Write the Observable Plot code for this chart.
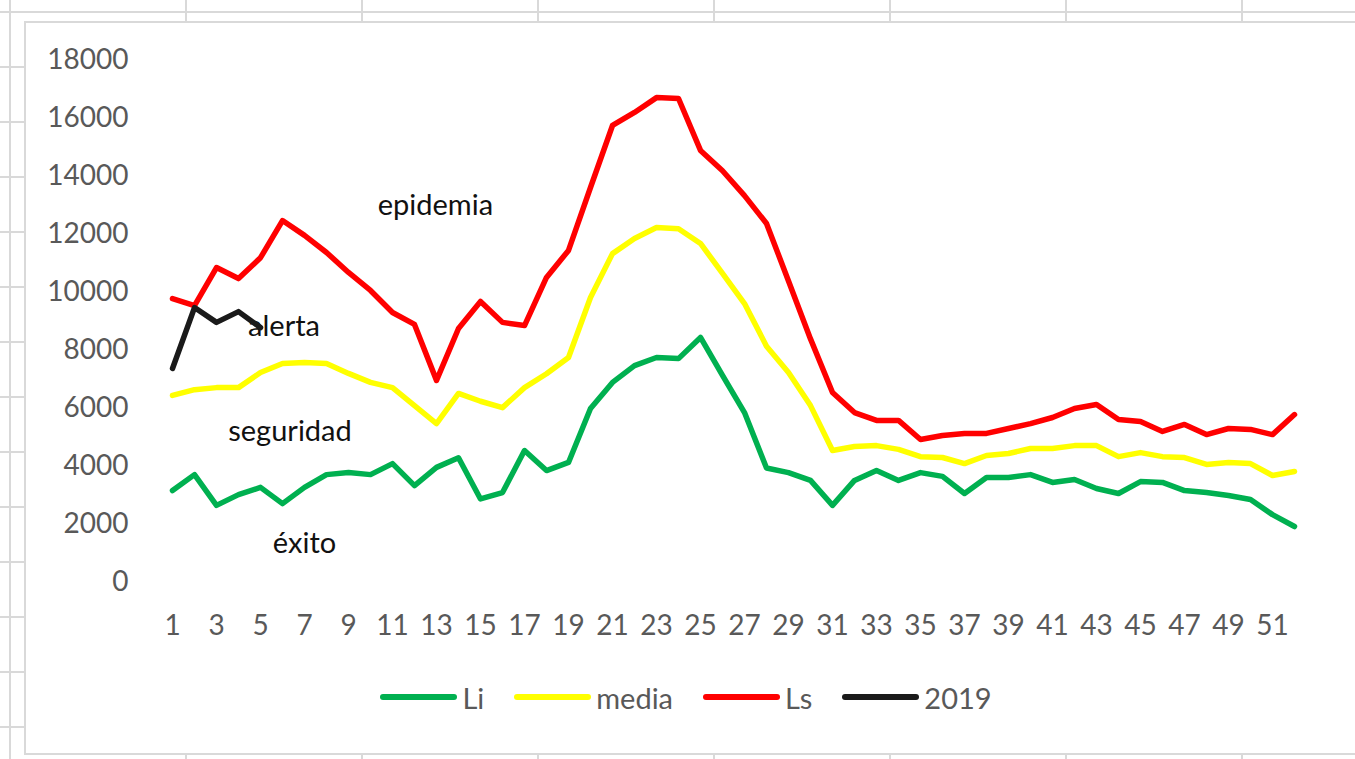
<!DOCTYPE html>
<html>
<head>
<meta charset="utf-8">
<script src="https://cdn.jsdelivr.net/npm/d3@7"></script>
<script src="https://cdn.jsdelivr.net/npm/@observablehq/plot@0.6"></script>
<style>
  html, body { margin: 0; padding: 0; background: #fff; }
  #sheet {
    position: relative; width: 1355px; height: 759px; overflow: hidden;
    background-color: #fff;
    background-image:
      repeating-linear-gradient(to right, transparent 0, transparent 9px, #d9d9d9 9px, #d9d9d9 11px, transparent 11px, transparent 176px),
      repeating-linear-gradient(to bottom, transparent 0, transparent 11px, #d9d9d9 11px, #d9d9d9 13px, transparent 13px, transparent 55px);
    background-position: 0 0, 0 0;
    font-family: Lato, "Open Sans", sans-serif;
  }
  #chartArea {
    position: absolute; left: 24px; top: 21px; width: 1330px; height: 730px;
    background: #fff; border-left: 2px solid #d9d9d9; border-top: 2px solid #d9d9d9; border-bottom: 2px solid #d9d9d9;
  }
  #plot { position: absolute; left: 0; top: 0; }
  #legend {
    position: absolute; left: 24px; width: 1324px; top: 678px; height: 38px;
    display: flex; justify-content: center; align-items: center; gap: 30px;
    font-size: 29px; color: #595959;
  }
  #legend .item { display: flex; align-items: center; gap: 5px; }
  #legend .swatch { width: 77px; height: 6px; border-radius: 3px; }
</style>
</head>
<body>
<div id="sheet">
  <div id="chartArea"></div>
  <div id="plot"></div>
  <div id="legend"></div>
</div>
<script>
// Epidemiological week (categories)
const weeks = [1,2,3,4,5,6,7,8,9,10,11,12,13,14,15,16,17,18,19,20,21,22,23,24,25,26,
               27,28,29,30,31,32,33,34,35,36,37,38,39,40,41,42,43,44,45,46,47,48,49,50,51,52];

// Lower limit (Li)
const li = [3170,3720,2660,3030,3280,2720,3280,3720,3790,3720,4100,3340,3970,4300,2880,3100,
            4550,3860,4140,6000,6900,7480,7760,7720,8450,7140,5860,3950,3790,3520,2660,3520,
            3860,3520,3790,3660,3070,3620,3620,3720,3450,3550,3240,3070,3480,3450,3170,3100,
            3000,2860,2340,1930];

// Mean (media)
const media = [6450,6650,6720,6720,7240,7550,7590,7550,7210,6900,6720,6100,5480,6520,6250,6030,
               6720,7200,7760,9830,11340,11860,12240,12200,11690,10660,9620,8150,7240,6100,4550,4690,
               4720,4590,4340,4310,4100,4380,4450,4620,4620,4720,4720,4340,4480,4340,4310,4070,
               4140,4100,3690,3830];

// Upper limit (Ls)
const ls = [9790,9550,10860,10480,11200,12480,11970,11380,10690,10070,9310,8900,6970,8760,9690,8970,
            8860,10520,11450,13620,15760,16210,16720,16690,14900,14200,13340,12380,10400,8400,6550,5860,
            5590,5590,4930,5070,5140,5140,5310,5480,5690,6000,6140,5620,5550,5210,5450,5100,
            5310,5280,5100,5790];

// Current year 2019 (first weeks only)
const y2019 = [7380,9480,8970,9340,8790];

// Series names & colours
const seriesNames = ["Li", "media", "Ls", "2019"];
const seriesColors = ["#00B050", "#FFFF00", "#FF0000", "#1a1a1a"];

// Tick labels
const xTicks = [1,3,5,7,9,11,13,15,17,19,21,23,25,27,29,31,33,35,37,39,41,43,45,47,49,51];
const yTicks = [0,2000,4000,6000,8000,10000,12000,14000,16000,18000];

// Zone annotations (in data coordinates: week, cases)
const zoneLabels = ["epidemia", "alerta", "seguridad", "éxito"];
const zoneWeeks = [12.95, 6.07, 6.34, 7.0];
const zoneValues = [13000, 8830, 5200, 1345];

// Build tables
const seriesValues = [li, media, ls, y2019];
const rows = [];
seriesNames.forEach((name, i) => {
  seriesValues[i].forEach((v, j) => rows.push({series: name, week: weeks[j], value: v}));
});
const annotations = zoneLabels.map((t, i) => ({label: t, week: zoneWeeks[i], value: zoneValues[i]}));

const marks = seriesNames.map((name, i) =>
  Plot.line(rows.filter(d => d.series === name), {
    x: "week", y: "value",
    stroke: seriesColors[i], strokeWidth: 5.5,
    strokeLinejoin: "round", strokeLinecap: "round"
  })
);

const chart = Plot.plot({
  width: 1355,
  height: 650,
  marginLeft: 161,
  marginRight: 50,
  marginTop: 60,
  marginBottom: 68,
  style: {fontFamily: "Lato, 'Open Sans', sans-serif", background: "transparent", overflow: "visible"},
  x: {type: "linear", domain: [0.5, 52.5]},
  y: {domain: [0, 18000]},
  marks: [
    Plot.axisY({ticks: yTicks, tickSize: 0, tickPadding: 33, fontSize: 28, fill: "#595959", label: null, tickFormat: d => String(d)}),
    Plot.axisX({ticks: xTicks, tickSize: 0, tickPadding: 33, fontSize: 28, fill: "#595959", label: null, tickFormat: d => String(d)}),
    Plot.text(annotations, {x: "week", y: "value", text: "label", fontSize: 29, fill: "#111"}),
    ...marks
  ]
});
document.getElementById("plot").appendChild(chart);

// Legend
const legend = document.getElementById("legend");
seriesNames.forEach((name, i) => {
  const item = document.createElement("div");
  item.className = "item";
  const sw = document.createElement("span");
  sw.className = "swatch";
  sw.style.background = seriesColors[i];
  const label = document.createElement("span");
  label.textContent = name;
  item.appendChild(sw);
  item.appendChild(label);
  legend.appendChild(item);
});
</script>
</body>
</html>
